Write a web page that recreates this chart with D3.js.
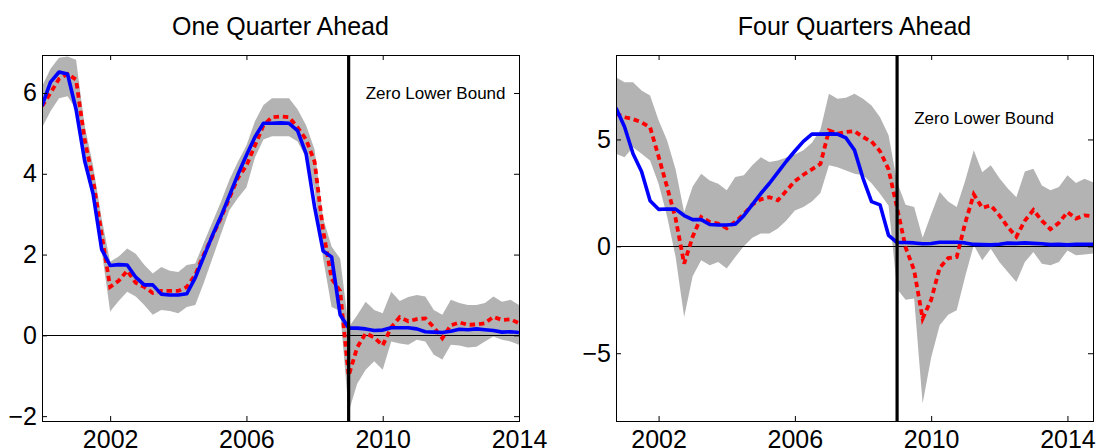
<!DOCTYPE html>
<html>
<head>
<meta charset="utf-8">
<script src="https://cdn.jsdelivr.net/npm/d3@7"></script>
<style>
  body{margin:0;background:#fff;}
  svg text{font-family:"Liberation Sans",Arial,Helvetica,sans-serif;fill:#000;}
  .axisGraph line{stroke:#000;stroke-width:1;}
  .axisGraph path{display:none;}
  .axisGraph text{font-size:25px;}
  .titleGraph{font-size:25px;text-anchor:middle;}
  .zlbLabel{font-size:17px;}
</style>
</head>
<body>
<svg id="chart" width="1096" height="448"></svg>
<script>

/************************************************************************************************************/
// data, one value per quarter

// effective federal funds rate, 2000Q1 .. 2014Q4
var fedFundsStart = 2000;
var fedFunds = [5.68, 6.27, 6.52, 6.47, 5.59, 4.33, 3.50, 2.13, 1.73, 1.75, 1.74, 1.44, 1.25, 1.25, 1.02, 1.00,
  1.00, 1.03, 1.43, 1.95, 2.47, 2.94, 3.46, 3.98, 4.46, 4.91, 5.25, 5.25, 5.26, 5.25, 5.07, 4.50,
  3.18, 2.09, 1.94, 0.51, 0.18, 0.18, 0.16, 0.12, 0.13, 0.19, 0.19, 0.19, 0.16, 0.09, 0.08, 0.07,
  0.10, 0.15, 0.14, 0.16, 0.14, 0.12, 0.08, 0.09, 0.07, 0.09, 0.09, 0.10];

// one quarter ahead, 2000Q1 .. 2014Q1
var oneQStart = 2000;
var oneQForecast = [5.67, 6.0, 6.35, 6.47, 6.33, 4.85, 3.85, 2.5, 1.2, 1.35, 1.6, 1.3, 1.2, 1.05, 1.1, 1.1,
  1.1, 1.2, 1.5, 2.0, 2.45, 2.9, 3.4, 3.9, 4.2, 4.7, 5.2, 5.4, 5.42, 5.4, 5.15, 4.85,
  4.3, 2.6, 1.4, 1.1, -1.0, -0.3, 0.05, -0.05, -0.25, 0.2, 0.45, 0.35, 0.4, 0.42, 0.2, -0.07,
  0.25, 0.32, 0.26, 0.27, 0.3, 0.46, 0.38, 0.4, 0.3];
var oneQUpper = [6.16, 6.6, 6.87, 6.9, 6.82, 5.2, 4.2, 2.9, 1.82, 1.95, 2.15, 2.02, 1.75, 1.53, 1.69, 1.6,
  1.57, 1.74, 1.78, 2.3, 2.8, 3.3, 3.85, 4.3, 4.7, 5.3, 5.7, 5.87, 5.87, 5.87, 5.6, 5.2,
  4.6, 2.9, 2.2, 1.9, 0.2, 0.5, 0.83, 0.63, 0.55, 1.08, 0.85, 0.95, 1.0, 0.96, 0.63, 0.51,
  0.88, 0.8, 0.75, 0.75, 0.8, 0.96, 0.83, 0.88, 0.75];
var oneQLower = [5.14, 5.55, 5.87, 5.92, 5.6, 4.5, 3.5, 2.1, 0.59, 0.85, 1.08, 0.96, 0.75, 0.51, 0.63, 0.6,
  0.55, 0.7, 0.75, 1.3, 1.9, 2.5, 3.1, 3.4, 3.66, 4.4, 4.85, 4.93, 4.93, 4.93, 4.8, 4.4,
  3.6, 1.9, 0.7, 0.6, -1.9, -1.2, -0.85, -0.64, -0.85, -0.15, -0.2, -0.23, -0.11, -0.15, -0.48, -0.6,
  -0.23, -0.25, -0.3, -0.28, -0.15, -0.03, -0.11, -0.15, -0.23];

// four quarters ahead, 2000Q4 .. 2014Q4
var fourQStart = 2000.75;
var fourQForecast = [6.2, 6.04, 5.95, 5.8, 5.57, 4.2, 2.77, 1.3, -0.81, 0.45, 1.37, 1.14, 1.06, 0.85, 1.15, 1.5,
  1.95, 2.2, 2.3, 2.15, 2.6, 3.05, 3.35, 3.6, 3.85, 5.42, 5.27, 5.35, 5.39, 5.11, 4.9, 4.45,
  3.6, 1.8, -0.05, -1.12, -3.38, -2.5, -1.0, -0.55, -0.5, 1.1, 2.43, 1.8, 1.92, 1.45, 0.9, 0.45,
  1.2, 1.7, 1.2, 0.8, 1.1, 1.6, 1.3, 1.45, 1.4];
var fourQUpper = [7.91, 7.68, 7.68, 7.29, 7.06, 5.9, 4.95, 3.6, 1.6, 2.8, 3.4, 3.08, 2.93, 2.62, 3.24, 3.32,
  3.79, 4.17, 3.94, 4.02, 4.15, 4.3, 4.49, 4.85, 5.45, 7.14, 6.9, 6.95, 7.14, 6.9, 6.59, 6.04,
  5.2, 3.0, 1.95, 1.84, 0.4, 1.5, 2.54, 2.1, 1.84, 3.08, 4.49, 3.47, 3.79, 3.2, 2.7, 2.3,
  3.5, 3.63, 2.85, 2.62, 2.77, 3.32, 2.96, 3.16, 3.0];
var fourQLower = [4.33, 4.17, 4.64, 4.33, 4.02, 2.93, 1.4, -0.5, -3.3, -1.4, -0.65, -0.89, -0.73, -1.04, -0.5, 0.0,
  0.4, 0.6, 0.6, 0.83, 1.21, 1.68, 1.84, 2.1, 2.5, 3.79, 3.7, 3.55, 3.4, 3.32, 2.95, 2.46,
  1.9, -2.0, -2.5, -2.44, -7.35, -5.2, -3.69, -3.2, -2.99, -1.4, 0.05, -0.65, -0.11, -0.73, -1.2, -1.67,
  -0.73, -0.27, -0.81, -0.89, -0.73, -0.19, -0.42, -0.38, -0.34];

var xTickYears = [2002, 2006, 2010, 2014];
var zlbDate = 2009;
var zlbText = "Zero Lower Bound";

/************************************************************************************************************/

var panels = [
  {title: "One Quarter Ahead", left: 42, right: 519, top: 55, bottom: 421,
    xDomain: [2000, 2014], yDomain: [-2.12, 6.94], yTicks: [-2, 0, 2, 4, 6],
    start: oneQStart, forecast: oneQForecast, upper: oneQUpper, lower: oneQLower},
  {title: "Four Quarters Ahead", left: 616, right: 1093, top: 55, bottom: 421,
    xDomain: [2000.75, 2014.75], yDomain: [-8.17, 8.95], yTicks: [-5, 0, 5],
    start: fourQStart, forecast: fourQForecast, upper: fourQUpper, lower: fourQLower}
];

function toQuarters(start, values){
  return values.map(function(v, i){ return {t: start + i / 4, v: v}; });
}

function toBand(start, upper, lower){
  return upper.map(function(v, i){ return {t: start + i / 4, hi: v, lo: lower[i]}; });
}

/************************************************************************************************************/

function drawPanel(svg, p, idx){

  var x = d3.scaleLinear().domain(p.xDomain).range([p.left, p.right]);
  var y = d3.scaleLinear().domain(p.yDomain).range([p.bottom, p.top]);

  var g = svg.append("g");

  g.append("clipPath").attr("id", "clip" + idx)
    .append("rect")
    .attr("x", p.left).attr("y", p.top)
    .attr("width", p.right - p.left).attr("height", p.bottom - p.top);

  var plot = g.append("g").attr("clip-path", "url(#clip" + idx + ")");

  var band = toBand(p.start, p.upper, p.lower);
  var forecast = toQuarters(p.start, p.forecast);
  var actual = toQuarters(fedFundsStart, fedFunds).filter(function(d){
    return d.t >= p.xDomain[0] - 1e-6 && d.t <= p.xDomain[1] + 1e-6;
  });

  plot.append("path")
    .datum(band)
    .attr("fill", "#b3b3b3")
    .attr("d", d3.area().x(function(d){return x(d.t);}).y0(function(d){return y(d.lo);}).y1(function(d){return y(d.hi);}));

  //zero line
  plot.append("line")
    .attr("x1", p.left).attr("x2", p.right)
    .attr("y1", Math.round(y(0)) + 0.5).attr("y2", Math.round(y(0)) + 0.5)
    .attr("stroke", "#000").attr("stroke-width", 1);

  plot.append("path")
    .datum(forecast)
    .attr("fill", "none")
    .attr("stroke", "#ff0000")
    .attr("stroke-width", 3.8)
    .attr("stroke-dasharray", "5.5,3.8")
    .attr("d", d3.line().x(function(d){return x(d.t);}).y(function(d){return y(d.v);}));

  plot.append("path")
    .datum(actual)
    .attr("fill", "none")
    .attr("stroke", "#0000ff")
    .attr("stroke-width", 3.6)
    .attr("stroke-linejoin", "round")
    .attr("d", d3.line().x(function(d){return x(d.t);}).y(function(d){return y(d.v);}));

  //zero lower bound marker
  plot.append("line")
    .attr("x1", x(zlbDate)).attr("x2", x(zlbDate))
    .attr("y1", p.top).attr("y2", p.bottom)
    .attr("stroke", "#000").attr("stroke-width", 3.2);

  g.append("text")
    .attr("class", "zlbLabel")
    .attr("x", x(zlbDate + 0.5))
    .attr("y", y(6))
    .attr("dy", "0.35em")
    .text(zlbText);

  //axes, ticks drawn inward on the four sides
  var fmtX = d3.format("d");

  g.append("g").attr("class", "axisGraph")
    .attr("transform", "translate(0," + p.bottom + ")")
    .call(d3.axisBottom(x).tickValues(xTickYears).tickSize(-5).tickPadding(9).tickFormat(fmtX));

  g.append("g").attr("class", "axisGraph")
    .attr("transform", "translate(0," + p.top + ")")
    .call(d3.axisTop(x).tickValues(xTickYears).tickSize(-5).tickFormat(""));

  g.append("g").attr("class", "axisGraph")
    .attr("transform", "translate(" + p.left + ",0)")
    .call(d3.axisLeft(y).tickValues(p.yTicks).tickSize(-5).tickPadding(5));

  g.append("g").attr("class", "axisGraph")
    .attr("transform", "translate(" + p.right + ",0)")
    .call(d3.axisRight(y).tickValues(p.yTicks).tickSize(-5).tickFormat(""));

  g.append("rect")
    .attr("x", p.left + 0.5).attr("y", p.top + 0.5)
    .attr("width", p.right - p.left).attr("height", p.bottom - p.top)
    .attr("fill", "none").attr("stroke", "#000").attr("stroke-width", 1);

  g.append("text")
    .attr("class", "titleGraph")
    .attr("x", (p.left + p.right) / 2)
    .attr("y", 35)
    .text(p.title);
}

/************************************************************************************************************/

var svg = d3.select("#chart");

panels.forEach(function(p, i){ drawPanel(svg, p, i); });

</script>
</body>
</html>
